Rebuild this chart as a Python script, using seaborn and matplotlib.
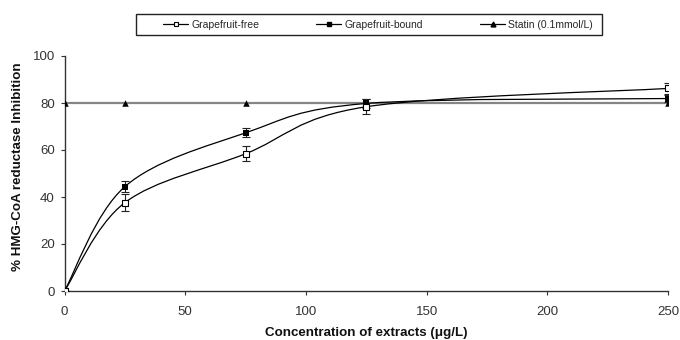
import numpy as np
import pandas as pd
import matplotlib
matplotlib.use("Agg")
import matplotlib.pyplot as plt
from matplotlib.path import Path
from matplotlib.patches import PathPatch, Rectangle
from matplotlib.lines import Line2D
import seaborn as sns

# ---- data ----
conc = [0, 25, 75, 125, 250]
free_vals = [0, 37.6, 58.4, 78.4, 86.2]
free_err = [0, 3.6, 3.2, 3.2, 2.4]
bound_vals = [0, 44.4, 67.3, 79.8, 81.9]
bound_err = [0, 2.4, 1.9, 2.0, 1.5]
statin_vals = [80, 80, 80, 80, 80]
series_names = ["Grapefruit-free", "Grapefruit-bound", "Statin (0.1mmol/L)"]
x_ticks = [0, 50, 100, 150, 200, 250]
y_ticks = [0, 20, 40, 60, 80, 100]

sns.set_theme(style="white")
plt.rcParams["font.family"] = ["Liberation Sans", "DejaVu Sans"]

W, H = 680, 340
fig = plt.figure(figsize=(6.8, 3.4), dpi=100)
ax = fig.add_axes([64.5 / W, 49 / H, (668 - 64.5) / W, (291 - 56) / H])


def smooth_path(xs, ys):
    """Excel-style smoothed line (cubic Bezier through the data points)."""
    pts = np.column_stack([xs, ys]).astype(float)
    n = len(pts)
    verts = [pts[0]]
    codes = [Path.MOVETO]
    for i in range(n - 1):
        p0 = pts[i - 1] if i > 0 else pts[i]
        p1 = pts[i]
        p2 = pts[i + 1]
        p3 = pts[i + 2] if i + 2 < n else pts[i + 1]
        c1 = p1 + (p2 - p0) / 6.0
        c2 = p2 - (p3 - p1) / 6.0
        verts += [c1, c2, p2]
        codes += [Path.CURVE4] * 3
    return Path(verts, codes)


# statin line (gray, straight)
ax.plot(conc, statin_vals, color="#858585", lw=1.6, zorder=2)

# smoothed curves for extracts
for vals in (free_vals, bound_vals):
    ax.add_patch(PathPatch(smooth_path(conc, vals), fill=False,
                           edgecolor="black", lw=0.9, zorder=3))

# error bars
ax.errorbar(conc, free_vals, yerr=free_err, fmt="none", ecolor="#222222",
            elinewidth=0.8, capsize=3, capthick=0.8, zorder=4)
ax.errorbar(conc, bound_vals, yerr=bound_err, fmt="none", ecolor="#222222",
            elinewidth=0.8, capsize=3, capthick=0.8, zorder=4)

# markers via seaborn
df = pd.DataFrame({
    "x": conc * 3,
    "y": statin_vals + free_vals + bound_vals,
    "s": [series_names[2]] * 5 + [series_names[0]] * 5 + [series_names[1]] * 5,
})
sns.scatterplot(data=df[df.s == series_names[2]], x="x", y="y", marker="^",
                color="black", s=22, linewidth=0, ax=ax, zorder=5, legend=False)
sns.scatterplot(data=df[df.s == series_names[1]], x="x", y="y", marker="s",
                color="black", s=22, linewidth=0, ax=ax, zorder=6, legend=False)
sns.scatterplot(data=df[df.s == series_names[0]], x="x", y="y", marker="s",
                facecolor="white", edgecolor="black", s=20, linewidth=0.8,
                ax=ax, zorder=7, legend=False)

ax.set_xlim(0, 250)
ax.set_ylim(0, 100)
ax.set_xticks(x_ticks)
ax.set_yticks(y_ticks)
ax.tick_params(axis="both", which="both", direction="out", length=3, width=0.8,
               color="#333333", labelsize=9.5, labelcolor="#333333", pad=4,
               bottom=True, left=True)
ax.tick_params(axis="x", pad=8)
for side in ("top", "right"):
    ax.spines[side].set_visible(False)
for side in ("left", "bottom"):
    ax.spines[side].set_color("#333333")
    ax.spines[side].set_linewidth(1.0)
ax.set_xlabel("Concentration of extracts (μg/L)", fontsize=9.6,
              fontweight="bold", color="#111111")
ax.set_ylabel("% HMG-CoA reductase Inhibition", fontsize=9.6,
              fontweight="bold", color="#111111")
ax.xaxis.set_label_coords(0.5, -0.152)
ax.yaxis.set_label_coords(-0.067, 0.53)

# legend frame box
fig.patches.append(Rectangle((136 / W, 1 - 35 / H), (602 - 136) / W, 21 / H,
                             transform=fig.transFigure, fill=False,
                             edgecolor="#222222", lw=1.0, zorder=1))

handles = [
    Line2D([0], [0], color="black", lw=0.9, marker="s", markerfacecolor="white",
           markeredgecolor="black", markersize=3.5, markeredgewidth=0.8),
    Line2D([0], [0], color="black", lw=0.9, marker="s", markerfacecolor="black",
           markersize=3.5),
    Line2D([0], [0], color="black", lw=0.9, marker="^", markerfacecolor="black",
           markersize=3.5),
]
leg = fig.legend(handles, series_names, loc="center left", ncol=3,
                 bbox_to_anchor=(163 / W, 1 - 24.5 / H),
                 frameon=False, fontsize=7.5, handlelength=2.4,
                 handletextpad=0.3, columnspacing=5.5, borderpad=0,
                 borderaxespad=0)

fig.savefig("out.png", dpi=100)
